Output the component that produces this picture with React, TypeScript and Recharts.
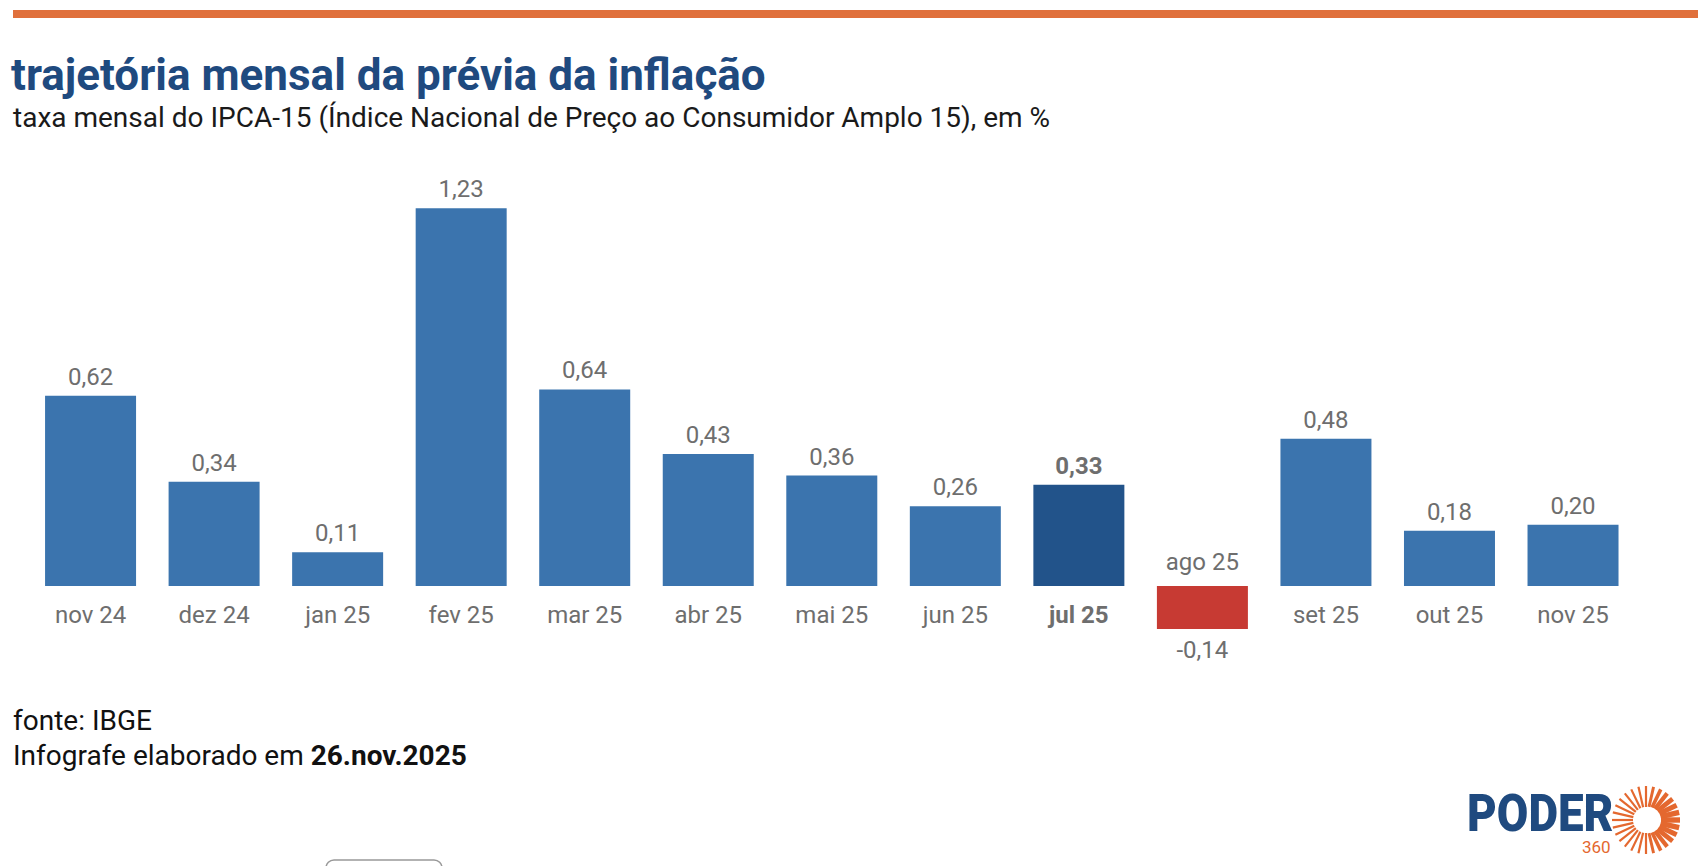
import React from "react";
import { BarChart, Bar, XAxis, YAxis, Cell, LabelList } from "recharts";

// valores mensais do IPCA-15, em %
const months = [
  "nov 24", "dez 24", "jan 25", "fev 25", "mar 25", "abr 25", "mai 25",
  "jun 25", "jul 25", "ago 25", "set 25", "out 25", "nov 25",
];
const values = [0.62, 0.34, 0.11, 1.23, 0.64, 0.43, 0.36, 0.26, 0.33, -0.14, 0.48, 0.18, 0.2];
const highlight = "jul 25";

const data = months.map((m, i) => ({ month: m, value: values[i] }));

const BLUE = "#3b74ae";
const DARK = "#22538a";
const RED = "#c73a33";
const GRAY = "#6e6e6e";
const FONT = "Roboto, 'Noto Sans', sans-serif";

const fmt = (v: number) => v.toFixed(2).replace(".", ",");

const ValueLabel = (props: any) => {
  const { x, y, width, height, value, index } = props;
  const top = Math.min(y, y + height);
  const bottom = Math.max(y, y + height);
  const neg = value < 0;
  const bold = months[index] === highlight;
  return (
    <text
      x={x + width / 2}
      y={neg ? bottom + 29 : top - 11}
      textAnchor="middle"
      fill={GRAY}
      fontSize={24}
      fontWeight={bold ? 700 : 400}
      fontFamily={FONT}
    >
      {fmt(value)}
    </text>
  );
};

const MonthLabel = (props: any) => {
  const { x, y, width, height, index } = props;
  const v = values[index];
  const top = Math.min(y, y + height);
  const bottom = Math.max(y, y + height);
  const zero = v < 0 ? top : bottom;
  const bold = months[index] === highlight;
  return (
    <text
      x={x + width / 2}
      y={v < 0 ? zero - 16 : zero + 37}
      textAnchor="middle"
      fill={GRAY}
      fontSize={24}
      fontWeight={bold ? 700 : 400}
      fontFamily={FONT}
    >
      {months[index]}
    </text>
  );
};

function Sun() {
  const cx = 1646;
  const cy = 820;
  const rays = [];
  const n = 28;
  for (let i = 0; i < n; i++) {
    const a = (i / n) * Math.PI * 2 - Math.PI / 2;
    // mais grosso do lado direito
    const right = Math.cos(a);
    const w = 2.2 + Math.max(0, right) * 3.2;
    const r0 = 13 + Math.max(0, right) * 2;
    const r1 = 34;
    rays.push(
      <line
        key={i}
        x1={cx + Math.cos(a) * r0}
        y1={cy + Math.sin(a) * r0}
        x2={cx + Math.cos(a) * r1}
        y2={cy + Math.sin(a) * r1}
        stroke="#e4682f"
        strokeWidth={w}
      />
    );
  }
  return <g>{rays}</g>;
}

export default function App() {
  return (
    <div
      style={{
        position: "absolute",
        left: 0,
        top: 0,
        width: 1698,
        height: 866,
        background: "#fff",
        fontFamily: FONT,
        overflow: "hidden",
      }}
    >
      <div style={{ position: "absolute", left: 13, top: 10, width: 1685, height: 8, background: "#e0703c" }} />
      <div
        style={{
          position: "absolute",
          left: 11,
          top: 49,
          fontSize: 44,
          fontWeight: 700,
          color: "#1f4a7f",
          whiteSpace: "nowrap",
          lineHeight: "52px",
        }}
      >
        trajetória mensal da prévia da inflação
      </div>
      <div
        style={{
          position: "absolute",
          left: 13,
          top: 101,
          fontSize: 28,
          color: "#1a1a1a",
          whiteSpace: "nowrap",
          lineHeight: "34px",
        }}
      >
        taxa mensal do IPCA-15 (Índice Nacional de Preço ao Consumidor Amplo 15), em %
      </div>

      <div style={{ position: "absolute", left: 0, top: 0 }}>
        <BarChart
          width={1698}
          height={866}
          data={data}
          margin={{ top: 156, right: 63, bottom: 157, left: 29 }}
          barCategoryGap="13%"
        >
          <XAxis dataKey="month" hide />
          <YAxis hide domain={[-0.4, 1.4]} />
          <Bar dataKey="value" isAnimationActive={false}>
            {data.map((d, i) => (
              <Cell key={i} fill={d.value < 0 ? RED : d.month === highlight ? DARK : BLUE} />
            ))}
            <LabelList dataKey="value" content={<ValueLabel />} />
            <LabelList dataKey="month" content={<MonthLabel />} />
          </Bar>
        </BarChart>
      </div>

      <div
        style={{
          position: "absolute",
          left: 13,
          top: 703,
          fontSize: 28,
          color: "#111",
          lineHeight: "35px",
          whiteSpace: "nowrap",
        }}
      >
        fonte: IBGE
        <br />
        Infografe elaborado em <b>26.nov.2025</b>
      </div>

      <div
        style={{
          position: "absolute",
          left: 1467,
          top: 794,
          fontSize: 52,
          lineHeight: "40px",
          height: 40,
          fontWeight: 900,
          color: "#1f4a7f",
          whiteSpace: "nowrap",
          transform: "scaleX(0.88)",
          transformOrigin: "left center",
        }}
      >
        PODER
      </div>
      <div
        style={{
          position: "absolute",
          left: 1582,
          top: 840,
          fontSize: 17,
          lineHeight: "14px",
          color: "#e4682f",
        }}
      >
        360
      </div>

      <svg style={{ position: "absolute", left: 0, top: 0, pointerEvents: "none" }} width={1698} height={866}>
        <Sun />
        <rect x={326} y={860} width={116} height={20} rx={8} fill="none" stroke="#999" strokeWidth={1.5} />
      </svg>
    </div>
  );
}
